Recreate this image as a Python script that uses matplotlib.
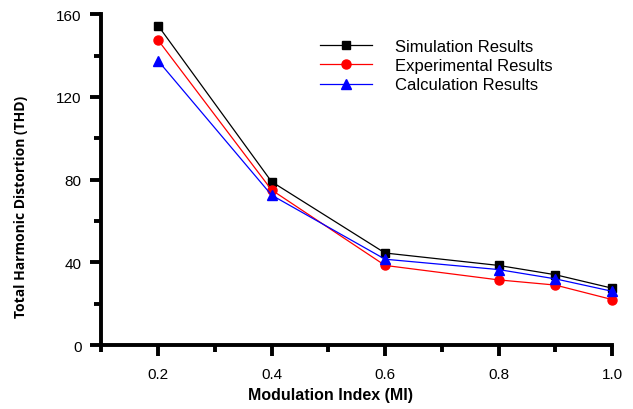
import numpy as np
import matplotlib
matplotlib.use("Agg")
import matplotlib.pyplot as plt
from matplotlib.ticker import MultipleLocator

# data
mi = [0.2, 0.4, 0.6, 0.8, 0.9, 1.0]
simulation = [154.5, 79, 44.5, 38.5, 34, 27.5]
experimental = [147.5, 75, 38.5, 31.5, 29, 22]
calculation = [137.5, 72.5, 41.5, 36.5, 32, 26]

plt.rcParams['font.family'] = ['Liberation Sans', 'DejaVu Sans']

fig = plt.figure(figsize=(6.33, 4.10), dpi=100)
ax = fig.add_axes([0.16, 0.156, 0.807, 0.807])

ax.plot(mi, simulation, color='black', lw=0.9, marker='s', ms=6, label='Simulation Results', clip_on=False)
ax.plot(mi, experimental, color='red', lw=0.9, marker='o', ms=6.5, label='Experimental Results', clip_on=False)
ax.plot(mi, calculation, color='blue', lw=0.9, marker='^', ms=7, label='Calculation Results', clip_on=False)

ax.set_xlim(0.1, 1.0)
ax.set_ylim(0, 160)
ax.xaxis.set_minor_locator(MultipleLocator(0.1))
ax.yaxis.set_major_locator(MultipleLocator(40))
ax.yaxis.set_minor_locator(MultipleLocator(20))
ax.set_xticks([0.2, 0.4, 0.6, 0.8, 1.0])
ax.set_xticklabels(['0.2', '0.4', '0.6', '0.8', '1.0'])

for s in ['top', 'right']:
    ax.spines[s].set_visible(False)
for s in ['left', 'bottom']:
    ax.spines[s].set_linewidth(2.8)
ax.tick_params(which='major', direction='out', length=8, width=2.8, labelsize=11, pad=8)
ax.tick_params(which='minor', direction='out', length=5, width=2.8)
ax.tick_params(axis='y', pad=6)

ax.set_xlabel('Modulation Index (MI)', fontsize=11.5, fontweight='bold')
ax.xaxis.set_label_coords(0.448, -0.128)
ax.set_ylabel('Total Harmonic Distortion (THD)', fontsize=10, fontweight='bold',
              family=['Open Sans', 'DejaVu Sans'])
ax.yaxis.set_label_coords(-0.143, 0.42)

fig.legend(loc='upper left', bbox_to_anchor=(320 / 633, 1 - 40 / 410), frameon=False, fontsize=12,
           handlelength=3.1, handletextpad=1.4, labelspacing=0.25, borderpad=0, borderaxespad=0)

fig.savefig('out.png', dpi=100)
